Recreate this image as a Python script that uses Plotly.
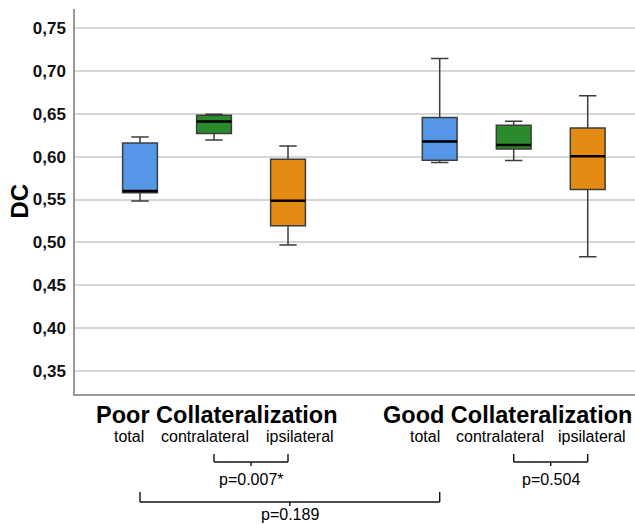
import plotly.graph_objects as go

# ---- data ----
groups = ["Poor Collateralization", "Good Collateralization"]
subgroups = ["total", "contralateral", "ipsilateral"]
positions = [1, 2, 3, 5.05, 6.05, 7.05]
box_colors = ["#5596E6", "#2B8A2B", "#E38B12", "#5596E6", "#2B8A2B", "#E38B12"]
q1 = [0.558, 0.627, 0.5195, 0.5958, 0.609, 0.5616]
median = [0.5600, 0.641, 0.5487, 0.6176, 0.6137, 0.6005]
q3 = [0.616, 0.6484, 0.597, 0.6457, 0.6367, 0.6335]
lowerfence = [0.5483, 0.6195, 0.497, 0.5931, 0.5954, 0.4833]
upperfence = [0.623, 0.6495, 0.6125, 0.7146, 0.6413, 0.6709]
tick_vals = [0.35, 0.40, 0.45, 0.50, 0.55, 0.60, 0.65, 0.70, 0.75]
tick_text = ["0,35", "0,40", "0,45", "0,50", "0,55", "0,60", "0,65", "0,70", "0,75"]
comparisons = [  # (left box index, right box index, label)
    (1, 2, "p=0.007*"),
    (4, 5, "p=0.504"),
    (0, 3, "p=0.189"),
]

W, H = 635, 524
ML, MT, MB = 75, 9, 130
PW, PH = W - ML, H - MT - MB
BOXW = 0.47
FONT = "Liberation Sans, Arial, sans-serif"


def px_x(px):
    return (px - ML) / PW


def px_y(py):
    return (H - MB - py) / PH


fig = go.Figure()
for i in range(len(positions)):
    fig.add_trace(go.Box(
        x=[positions[i]], q1=[q1[i]], median=[median[i]], q3=[q3[i]],
        lowerfence=[lowerfence[i]], upperfence=[upperfence[i]],
        width=BOXW, fillcolor=box_colors[i], whiskerwidth=0.5,
        line=dict(color="#3c3c3c", width=1.5), boxpoints=False,
        showlegend=False, hoverinfo="skip",
    ))
    fig.add_trace(go.Scatter(
        x=[positions[i] - BOXW / 2, positions[i] + BOXW / 2],
        y=[median[i], median[i]], mode="lines",
        line=dict(color="black", width=2.5), showlegend=False, hoverinfo="skip",
    ))

annotations = []
# group titles
for gx, g in zip([216.5, 507], groups):
    annotations.append(dict(text=g, xref="paper", yref="paper", x=px_x(gx), y=px_y(415),
                            xanchor="center", yanchor="middle", showarrow=False,
                            font=dict(family=FONT, size=23.5, color="black", weight="bold")))
# subgroup labels
sub_px = [[129, 205, 300], [425, 500, 592]]
for row in sub_px:
    for sx, s in zip(row, subgroups):
        annotations.append(dict(text=s, xref="paper", yref="paper", x=px_x(sx), y=px_y(436),
                                xanchor="center", yanchor="middle", showarrow=False,
                                font=dict(family=FONT, size=16, color="black")))

# brackets
shapes = []
bracket_y = [(454, 462, 466, 479), (454, 462, 466, 479), (492, 502, 506, 514)]
for (a, b, lab), (ytop, ybot, ytick, ytext) in zip(comparisons, bracket_y):
    xa, xb = positions[a], positions[b]
    xm = (xa + xb) / 2
    path_line = dict(color="#111111", width=1.4)
    shapes.append(dict(type="line", xref="x", yref="paper", x0=xa, x1=xa,
                       y0=px_y(ytop), y1=px_y(ybot), line=path_line))
    shapes.append(dict(type="line", xref="x", yref="paper", x0=xb, x1=xb,
                       y0=px_y(ytop), y1=px_y(ybot), line=path_line))
    shapes.append(dict(type="line", xref="x", yref="paper", x0=xa, x1=xb,
                       y0=px_y(ybot), y1=px_y(ybot), line=path_line))
    shapes.append(dict(type="line", xref="x", yref="paper", x0=xm, x1=xm,
                       y0=px_y(ybot), y1=px_y(ytick), line=path_line))
    annotations.append(dict(text=lab, xref="x", yref="paper", x=xm, y=px_y(ytext),
                            xanchor="center", yanchor="middle", showarrow=False,
                            font=dict(family=FONT, size=16, color="black")))

# y axis title
annotations.append(dict(text="DC", xref="paper", yref="paper", x=px_x(19), y=0.5,
                        xanchor="center", yanchor="middle", textangle=-90, showarrow=False,
                        font=dict(family=FONT, size=24, color="black", weight="bold")))

fig.update_layout(
    width=W, height=H,
    margin=dict(l=ML, r=0, t=MT, b=MB),
    paper_bgcolor="white", plot_bgcolor="white",
    showlegend=False,
    annotations=annotations, shapes=shapes,
    xaxis=dict(range=[0.1216, 7.689], showticklabels=False, showgrid=False,
               zeroline=False, showline=True, linecolor="#9a9a9a", linewidth=1.5,
               ticks=""),
    yaxis=dict(range=[0.3232, 0.7722], tickvals=tick_vals, ticktext=tick_text,
               showgrid=True, gridcolor="#d6d6d6", gridwidth=1.5, zeroline=False,
               showline=True, linecolor="#9a9a9a", linewidth=1.5, ticks="",
               ticklabelstandoff=4,
               tickfont=dict(family=FONT, size=17, color="#111111", weight="bold")),
)

fig.write_html(
    "out.html",
    config={"displayModeBar": False},
    post_script="document.body.style.margin='0';document.body.style.overflow='hidden';",
)
